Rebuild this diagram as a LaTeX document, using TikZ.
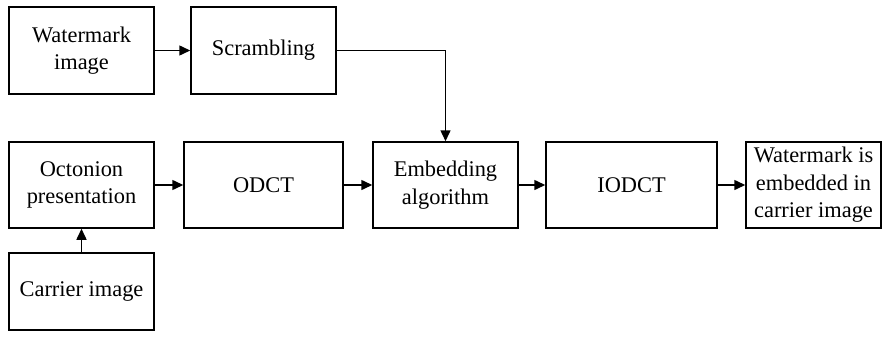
\documentclass[tikz,border=0pt]{standalone}
\usepackage{fontspec}
\setmainfont{Liberation Serif}
\usetikzlibrary{arrows.meta}
\begin{document}
\begin{tikzpicture}[x=1pt,y=-1pt,
  blk/.style={draw,line width=1.5pt,inner sep=0pt,align=center,
    font=\fontsize{22.4}{27.5}\selectfont},
  arr/.style={line width=1.5pt,-{Triangle[length=11pt,width=10pt]}}]
\useasboundingbox (0,0) rectangle (882,340);
\node[blk,minimum width=145pt,minimum height=87pt] (wm) at (81.5,50.5) {Watermark\\image};
\node[blk,minimum width=145pt,minimum height=87pt] (sc) at (263.5,50.5) {Scrambling};
\node[blk,minimum width=145pt,minimum height=86pt] (oc) at (81.5,185) {Octonion\\presentation};
\node[blk,minimum width=159pt,minimum height=86pt] (od) at (263.5,185) {ODCT};
\node[blk,minimum width=145pt,minimum height=86pt] (em) at (445.5,185) {Embedding\\algorithm};
\node[blk,minimum width=171pt,minimum height=86pt] (io) at (631.5,185) {IODCT};
\node[blk,minimum width=135pt,minimum height=86pt] (wo) at (813.5,185) {Watermark is\\embedded in\\carrier image};
\node[blk,minimum width=145pt,minimum height=77pt] (ca) at (81.5,291.5) {Carrier image};
\draw[arr] (wm) -- (sc);
\draw[arr] (sc.east) -| (em.north);
\draw[arr] (oc) -- (od);
\draw[arr] (od) -- (em);
\draw[arr] (em) -- (io);
\draw[arr] (io) -- (wo);
\draw[arr] (ca) -- (oc);
\end{tikzpicture}
\end{document}
